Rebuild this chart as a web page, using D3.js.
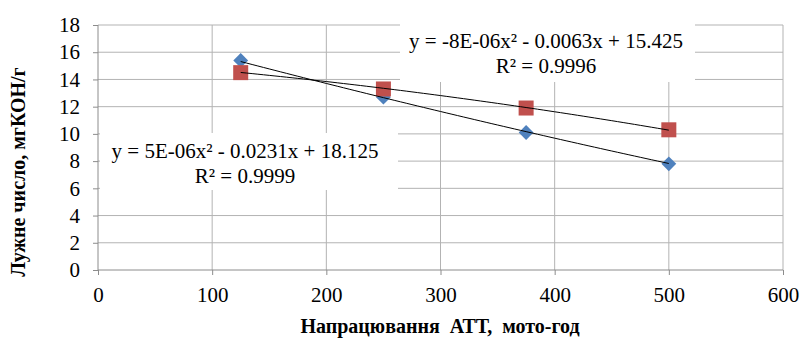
<!DOCTYPE html>
<html>
<head>
<meta charset="utf-8">
<script src="https://cdn.jsdelivr.net/npm/d3@7"></script>
</head>
<body style="margin:0">
<script>
// data
var hours = [125, 250, 375, 500];
var seriesA = [15.4, 12.7, 10.1, 7.8];   // blue diamonds
var seriesB = [14.5, 13.3, 11.9, 10.3];  // red squares
// trendline coefficients shown on the chart [a, b, c] for a*x^2 + b*x + c
var trendA = [5e-6, -0.0231, 18.125];
var trendB = [-8e-6, -0.0063, 15.425];
var labelA = ["y = 5E-06x² - 0.0231x + 18.125", "R² = 0.9999"];
var labelB = ["y = -8E-06x² - 0.0063x + 15.425", "R² = 0.9996"];
var xTicks = [0, 100, 200, 300, 400, 500, 600];
var yTicks = [0, 2, 4, 6, 8, 10, 12, 14, 16, 18];

var serif = "Liberation Serif";
var width = 800;
var height = 338;
var margin = { top: 25, left: 98, bottom: 68, right: 17 };

var svg = d3.select("body").append("svg")
  .attr("width", width)
  .attr("height", height);

// set the serif face on a text node, inline so nothing overrides it
function face(sel) {
  sel.attr("font-family", serif).style("font-family", serif, "important");
}

var x = d3.scaleLinear().domain([0, 600]).range([margin.left, width - margin.right]);
var y = d3.scaleLinear().domain([0, 18]).range([height - margin.bottom, margin.top]);

// gridlines
svg.append("g")
  .selectAll("line")
  .data(yTicks.slice(1))
  .enter().append("line")
  .attr("x1", x(0)).attr("x2", x(600))
  .attr("y1", function (d) { return y(d); })
  .attr("y2", function (d) { return y(d); })
  .attr("stroke", "#b3b3b3").attr("stroke-width", 1);

svg.append("g")
  .selectAll("line")
  .data(xTicks.slice(1))
  .enter().append("line")
  .attr("x1", function (d) { return x(d); })
  .attr("x2", function (d) { return x(d); })
  .attr("y1", y(0)).attr("y2", y(18))
  .attr("stroke", "#b3b3b3").attr("stroke-width", 1);

// axes
var xAxis = d3.axisBottom(x).tickValues(xTicks).tickSize(5).tickPadding(12);
var yAxis = d3.axisLeft(y).tickValues(yTicks).tickSize(5).tickPadding(13);

var gx = svg.append("g")
  .attr("transform", "translate(0," + y(0) + ")")
  .call(xAxis);
var gy = svg.append("g")
  .attr("transform", "translate(" + x(0) + ",0)")
  .call(yAxis);

[gx, gy].forEach(function (g) {
  g.attr("font-size", 21);
  g.select(".domain").attr("stroke", "#8c8c8c");
  g.selectAll(".tick line").attr("stroke", "#8c8c8c");
  g.selectAll(".tick text").attr("fill", "#000").call(face);
});
gy.select(".domain").attr("d", "M0," + y(0) + "V" + y(18));
gx.select(".domain").attr("d", "M" + x(0) + ",0H" + x(600));

// trend lines
function poly(c) {
  return d3.range(125, 501, 5).map(function (v) {
    return [v, c[0] * v * v + c[1] * v + c[2]];
  });
}
var line = d3.line()
  .x(function (d) { return x(d[0]); })
  .y(function (d) { return y(d[1]); });

// markers
var diamond = d3.symbol().type(d3.symbolSquare).size(110);
svg.append("g")
  .selectAll("path")
  .data(hours)
  .enter().append("path")
  .attr("d", diamond)
  .attr("transform", function (d, i) {
    return "translate(" + x(d) + "," + y(seriesA[i]) + ") rotate(45)";
  })
  .attr("fill", "#4f81bd");

svg.append("g")
  .selectAll("rect")
  .data(hours)
  .enter().append("rect")
  .attr("x", function (d) { return x(d) - 7.5; })
  .attr("y", function (d, i) { return y(seriesB[i]) - 7.5; })
  .attr("width", 15).attr("height", 15)
  .attr("fill", "#c0504d");

// trend lines drawn over the markers
[trendA, trendB].forEach(function (c) {
  svg.append("path")
    .attr("d", line(poly(c)))
    .attr("fill", "none")
    .attr("stroke", "#000")
    .attr("stroke-width", 1);
});

// equation labels with white background
function eqLabel(lines, cx, cy, box) {
  svg.append("rect")
    .attr("x", box[0]).attr("y", box[1])
    .attr("width", box[2]).attr("height", box[3])
    .attr("fill", "#fff");
  lines.forEach(function (t, i) {
    svg.append("text")
      .attr("x", cx).attr("y", cy + i * 25)
      .attr("text-anchor", "middle")
      .attr("font-size", 21)
      .call(face)
      .text(t);
  });
}
eqLabel(labelA, 245, 158, [100, 133, 298, 57]);
eqLabel(labelB, 546, 48, [400, 24, 295, 58]);

// axis titles
svg.append("text")
  .attr("x", 440).attr("y", 333)
  .attr("text-anchor", "middle")
  .attr("font-size", 20)
  .attr("font-weight", "bold")
  .attr("xml:space", "preserve")
  .call(face)
  .text("Напрацювання  АТТ,  мото-год");

svg.append("text")
  .attr("transform", "translate(25,172) rotate(-90)")
  .attr("text-anchor", "middle")
  .attr("font-size", 20)
  .attr("font-weight", "bold")
  .call(face)
  .text("Лужне число, мгКОН/г");
</script>
</body>
</html>
